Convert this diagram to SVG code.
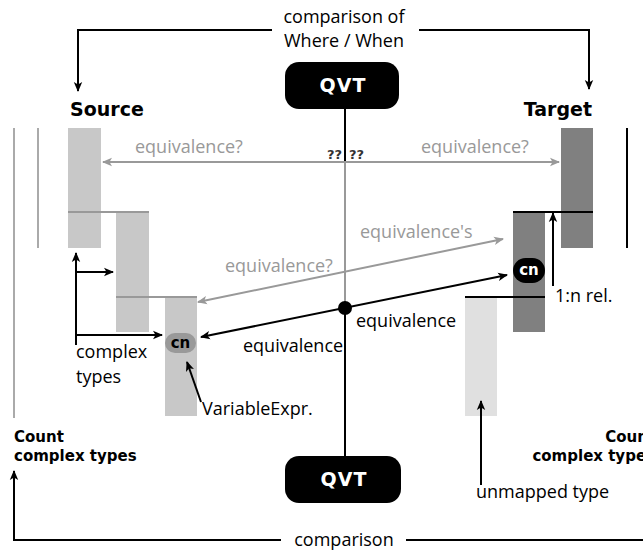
<svg xmlns="http://www.w3.org/2000/svg" width="643" height="550" viewBox="0 0 643 550">
  <defs>
    <marker id="ah" viewBox="0 0 10 10" refX="9" refY="5" markerWidth="10" markerHeight="10" markerUnits="userSpaceOnUse" orient="auto-start-reverse">
      <path d="M0,0.8 L10,5 L0,9.2 L2.5,5 Z" fill="#000"/>
    </marker>
    <marker id="ahg" viewBox="0 0 10 10" refX="9" refY="5" markerWidth="10" markerHeight="10" markerUnits="userSpaceOnUse" orient="auto-start-reverse">
      <path d="M0,0.8 L10,5 L0,9.2 L2.5,5 Z" fill="#999"/>
    </marker>
    <style>
      text { font-family: "Open Sans", Lato, "DejaVu Sans", sans-serif; }
      .lbl { font-size: 18px; fill: #000; }
      .glbl { font-size: 18px; fill: #999; }
      .bold { font-family: "DejaVu Sans", "Open Sans", sans-serif; font-weight: bold; fill: #000; }
      .head { font-size: 19px; }
      .cnt { font-size: 15px; }
      .qvt { font-family: "DejaVu Sans", sans-serif; font-size: 19px; font-weight: 900; letter-spacing: 1px; fill: #fff; text-anchor: middle; }
      .blk { stroke: #000; stroke-width: 2; fill: none; }
      .gry { stroke: #999; stroke-width: 2; fill: none; }
      .light { fill: #c8c8c8; }
      .dark { fill: #808080; }
      .pale { fill: #e0e0e0; }
    </style>
  </defs>

  <!-- QVT engines -->
  <g id="qvt-top">
    <rect x="285" y="62" width="114" height="47" rx="14" fill="#000"/>
    <text class="qvt" x="343" y="92">QVT</text>
  </g>
  <g id="qvt-bottom">
    <rect x="285" y="456" width="116" height="47" rx="14" fill="#000"/>
    <text class="qvt" x="344" y="486">QVT</text>
  </g>

  <!-- Source metamodel hierarchy -->
  <g id="source">
    <text class="bold head" x="70" y="116">Source</text>
    <line x1="14" y1="128" x2="14" y2="418" stroke="#aaa" stroke-width="2"/>
    <line x1="38" y1="128" x2="38" y2="248" stroke="#aaa" stroke-width="2"/>
    <rect class="light" x="68" y="128" width="33" height="120"/>
    <rect class="light" x="116" y="212" width="33" height="120"/>
    <rect class="light" x="165" y="297" width="32" height="119"/>
    <line x1="68" y1="212" x2="149" y2="212" stroke="#999" stroke-width="2"/>
    <line x1="116" y1="297" x2="197" y2="297" stroke="#999" stroke-width="2"/>
  </g>
  <g id="source-cn">
    <rect x="165" y="333" width="31" height="20" rx="10" fill="#999"/>
    <text class="bold" x="180.5" y="348" font-size="15" text-anchor="middle">cn</text>
  </g>

  <!-- Target metamodel hierarchy -->
  <g id="target">
    <text class="bold head" x="592" y="116" text-anchor="end">Target</text>
    <line x1="627" y1="128" x2="627" y2="248" stroke="#000" stroke-width="2"/>
    <rect class="dark" x="561" y="128" width="32" height="120"/>
    <rect class="dark" x="513" y="212" width="32" height="120"/>
    <line x1="513" y1="212" x2="593" y2="212" stroke="#000" stroke-width="2"/>
  </g>
  <g id="target-cn">
    <rect x="513" y="258" width="32" height="25" rx="12.5" fill="#000"/>
    <text class="bold" x="529" y="275" font-size="15" text-anchor="middle" style="fill:#fff">cn</text>
  </g>
  <g id="unmapped">
    <rect class="pale" x="465" y="297" width="32" height="119"/>
    <line x1="465" y1="297" x2="545" y2="297" stroke="#000" stroke-width="2"/>
  </g>

  <!-- Counters -->
  <g id="count-left">
    <text class="bold cnt" x="14" y="442">Count</text>
    <text class="bold cnt" x="14" y="461">complex types</text>
  </g>
  <g id="count-right">
    <text class="bold cnt" x="655" y="442" text-anchor="end">Count</text>
    <text class="bold cnt" x="655" y="461" text-anchor="end">complex types</text>
  </g>

  <!-- Connectors -->
  <g id="connectors">
    <!-- where/when comparison -->
    <path class="blk" d="M272,30 H78 V91" marker-end="url(#ah)"/>
    <path class="blk" d="M419,30 H589 V89" marker-end="url(#ah)"/>
    <!-- count comparison -->
    <path class="blk" d="M281,540 H14 V471" marker-end="url(#ah)"/>
    <line class="blk" x1="406" y1="540" x2="645" y2="540"/>

    <!-- QVT axis -->
    <line class="blk" x1="345" y1="109" x2="345" y2="162"/>
    <line class="gry" x1="345" y1="162" x2="345" y2="308"/>
    <line class="blk" x1="345" y1="308" x2="345" y2="456"/>

    <!-- uncertain equivalences -->
    <line class="gry" x1="103" y1="162" x2="559" y2="162" marker-start="url(#ahg)" marker-end="url(#ahg)"/>
    <line class="gry" x1="198" y1="302" x2="503" y2="239" marker-start="url(#ahg)" marker-end="url(#ahg)"/>

    <!-- confirmed equivalence -->
    <line class="blk" x1="201" y1="337" x2="507" y2="275" marker-start="url(#ah)" marker-end="url(#ah)"/>
    <circle cx="345" cy="308" r="7" fill="#000"/>

    <!-- complex types bracket -->
    <path class="blk" d="M76,345 V253" marker-end="url(#ah)"/>
    <line class="blk" x1="76" y1="272" x2="113" y2="272" marker-end="url(#ah)"/>
    <line class="blk" x1="76" y1="335" x2="162" y2="335" marker-end="url(#ah)"/>

    <!-- VariableExpr. pointer -->
    <line class="blk" x1="201" y1="402" x2="187" y2="362" marker-end="url(#ah)"/>

    <!-- 1:n relation -->
    <line class="blk" x1="553" y1="286" x2="553" y2="213" marker-end="url(#ah)"/>

    <!-- unmapped type pointer -->
    <line class="blk" x1="481" y1="485" x2="481" y2="401" marker-end="url(#ah)"/>
  </g>

  <!-- Labels -->
  <g id="labels">
    <text class="lbl" x="344" y="23" text-anchor="middle">comparison of</text>
    <text class="lbl" x="344" y="47" text-anchor="middle">Where / When</text>
    <text class="lbl" x="344" y="546" text-anchor="middle">comparison</text>
    <text class="bold" x="342" y="159" font-size="13" text-anchor="end" style="fill:#333">??</text>
    <text class="bold" x="349" y="159" font-size="13" style="fill:#333">??</text>
    <text class="glbl" x="135" y="153">equivalence?</text>
    <text class="glbl" x="421" y="153">equivalence?</text>
    <text class="glbl" x="225" y="272">equivalence?</text>
    <text class="glbl" x="360" y="238">equivalence's</text>
    <text class="lbl" x="356" y="327">equivalence</text>
    <text class="lbl" x="243" y="352">equivalence</text>
    <text class="lbl" x="76" y="358">complex</text>
    <text class="lbl" x="76" y="383">types</text>
    <text class="lbl" x="202" y="415" font-size="14.5">VariableExpr.</text>
    <text class="lbl" x="555" y="302">1:n rel.</text>
    <text class="lbl" x="476" y="498">unmapped type</text>
  </g>
</svg>
